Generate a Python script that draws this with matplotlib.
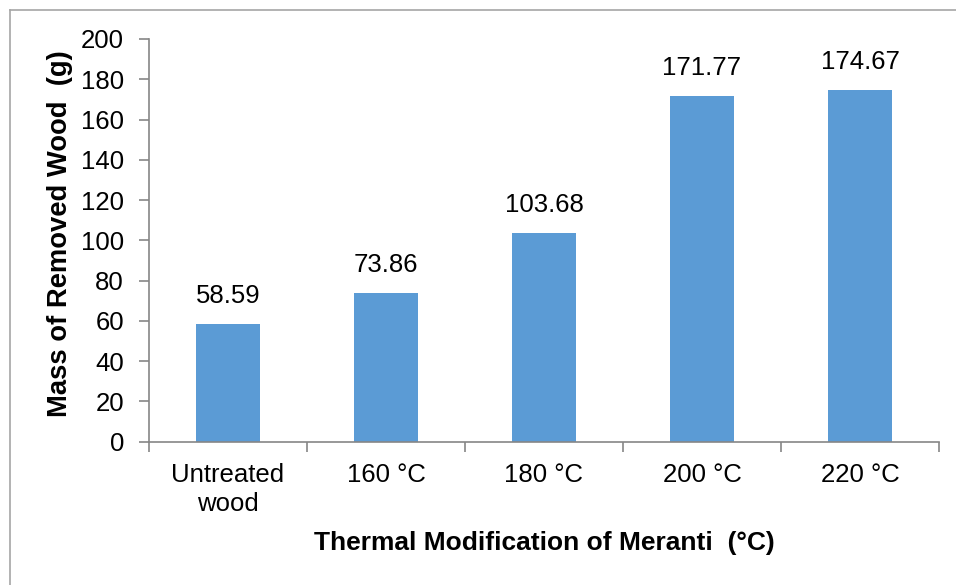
import matplotlib
matplotlib.use("Agg")
import matplotlib.pyplot as plt
from matplotlib.lines import Line2D

categories = ["Untreated\nwood", "160 °C", "180 °C", "200 °C", "220 °C"]
values = [58.59, 73.86, 103.68, 171.77, 174.67]
value_labels = ["58.59", "73.86", "103.68", "171.77", "174.67"]
yticks = [0, 20, 40, 60, 80, 100, 120, 140, 160, 180, 200]

plt.rcParams['font.family'] = ['Liberation Sans', 'DejaVu Sans']

W, H = 956, 585
fig = plt.figure(figsize=(W / 100, H / 100), dpi=100)
fig.patch.set_facecolor("white")

# outer chart border (only left/top visible in reference)
fig.add_artist(Line2D([10 / W, 10 / W], [0, 1 - 10 / H], color="#a6a6a6", lw=1.2, transform=fig.transFigure))
fig.add_artist(Line2D([10 / W, 1], [1 - 10 / H, 1 - 10 / H], color="#a6a6a6", lw=1.2, transform=fig.transFigure))

x0, x1 = 149, 939
y0, y1 = 441.7, 39
ax = fig.add_axes([x0 / W, (H - y0) / H, (x1 - x0) / W, (y0 - y1) / H])

FS = 18.5
xs = list(range(len(categories)))
ax.bar(xs, values, width=0.4, color="#5B9BD5", zorder=2)
for x, v, lab in zip(xs, values, value_labels):
    ax.text(x, v + 8, lab, ha="center", va="bottom", fontsize=FS, color="black")

ax.set_xlim(-0.5, len(categories) - 0.5)
ax.set_ylim(0, 200)
ax.set_yticks(yticks)
ax.set_xticks(xs)
ax.set_xticklabels(categories, fontsize=FS, linespacing=1.3)
ax.tick_params(axis="y", labelsize=FS, length=7, color="#868686", width=1.2, pad=11)
ax.tick_params(axis="x", length=0, pad=15)
# category boundary ticks
ax.set_xticks([i - 0.5 for i in range(len(categories) + 1)], minor=True)
ax.tick_params(axis="x", which="minor", length=7, color="#868686", width=1.2)

for s in ["top", "right"]:
    ax.spines[s].set_visible(False)
for s in ["left", "bottom"]:
    ax.spines[s].set_color("#868686")
    ax.spines[s].set_linewidth(1.2)

fig.text((x0 + x1) / 2 / W, 1 - 543 / H, "Thermal Modification of Meranti  (°C)",
         ha="center", va="center", fontsize=19, fontweight="bold")
fig.text(60 / W, 1 - 234 / H, "Mass of Removed Wood  (g)", rotation=90,
         ha="center", va="center", fontsize=19.7, fontweight="bold")

fig.savefig("out.png", dpi=100)
